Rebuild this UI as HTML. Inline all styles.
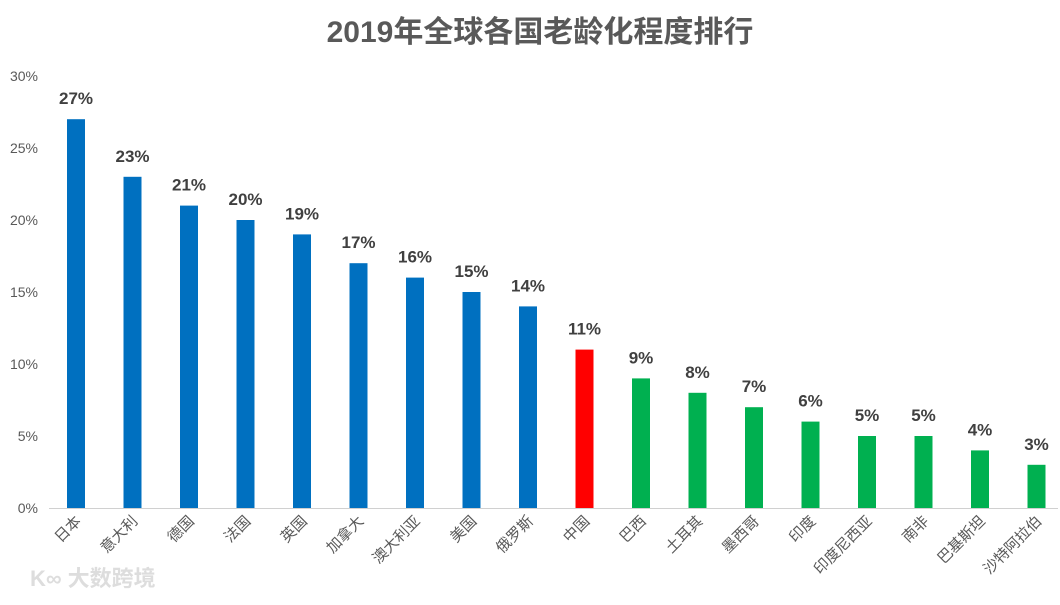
<!DOCTYPE html>
<html><head><meta charset="utf-8"><style>
body{margin:0;background:#fff;width:1060px;height:600px;overflow:hidden}
svg text{font-family:"Liberation Sans","Noto Sans CJK SC",sans-serif}
</style></head><body>
<svg id="c" width="1060" height="600">
<text x="540" y="42" text-anchor="middle" font-size="30" font-weight="bold" fill="#595959">2019年全球各国老龄化程度排行</text>
<text x="30" y="586" font-size="22" fill="#ddd" font-weight="bold">K∞ 大数跨境</text>
</svg>
<script>
const categories=["日本","意大利","德国","法国","英国","加拿大","澳大利亚","美国","俄罗斯","中国","巴西","土耳其","墨西哥","印度","印度尼西亚","南非","巴基斯坦","沙特阿拉伯"];
const values=[27,23,21,20,19,17,16,15,14,11,9,8,7,6,5,5,4,3];
const groups=["b","b","b","b","b","b","b","b","b","r","g","g","g","g","g","g","g","g"];
const yTicks=[0,5,10,15,20,25,30];
const svg=document.getElementById('c');const NS='http://www.w3.org/2000/svg';
const y0=508,pxPer=14.4,x0=49,step=56.5,first=76,bw=18;
const y=v=>y0-v*pxPer;const x=i=>first+i*step;
const col={b:"#0070C0",r:"#FF0000",g:"#00B050"};
function mk(t,a){const e=document.createElementNS(NS,t);for(const k in a)e.setAttribute(k,a[k]);svg.appendChild(e);return e;}
yTicks.forEach(t=>{const e=mk('text',{x:38,y:y(t)+5,'text-anchor':'end','font-size':14,fill:'#595959'});e.textContent=t+'%';

});
const ax=mk('line',{x1:x0,x2:1058,y1:y0+0.5,y2:y0+0.5,stroke:'#d0d0d0','stroke-width':1});


categories.forEach((c,i)=>{
const r=mk('rect',{x:x(i)-bw/2,y:y(values[i]),width:bw,height:values[i]*pxPer,fill:col[groups[i]]});


const l=mk('text',{x:x(i),y:y(values[i])-15,'text-anchor':'middle','font-size':17,'font-weight':'bold',fill:'#404040'});l.textContent=values[i]+'%';


const t=mk('text',{x:x(i)+6,y:522,'text-anchor':'end','font-size':15,fill:'#595959',transform:`rotate(-45 ${x(i)+6} 522)`});t.textContent=c;


});
</script>
</body></html>
